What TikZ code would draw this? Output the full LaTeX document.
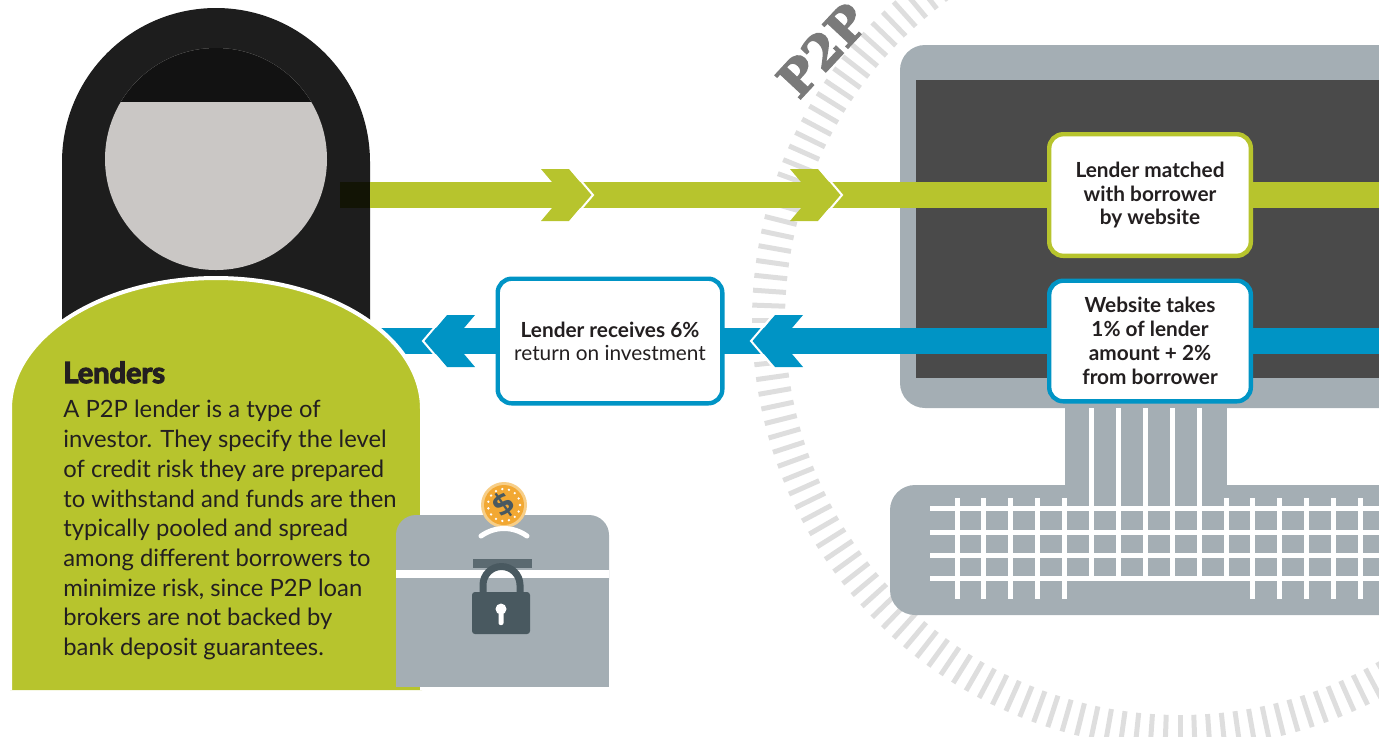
\documentclass[tikz,border=0pt]{standalone}
\usepackage{fontspec}
\setmainfont{Lato}
\font\heavyfont="Lato/B:embolden=4" at 14.5pt
\font\slabfont="DejaVu Serif/B:embolden=2.5" at 24pt
\newfontfamily\symfont{DejaVu Sans}

\definecolor{lime}{RGB}{183,196,45}
\definecolor{sea}{RGB}{0,148,197}
\definecolor{steel}{RGB}{164,174,180}
\definecolor{screen}{RGB}{74,74,74}
\definecolor{ink}{RGB}{35,31,32}
\definecolor{slate}{RGB}{73,89,96}
\definecolor{hair}{RGB}{29,29,29}
\definecolor{skin}{RGB}{202,199,197}
\definecolor{coin}{RGB}{242,168,51}
\definecolor{coinrim}{RGB}{247,206,135}
\definecolor{tickgray}{RGB}{222,222,222}

\begin{document}
\begin{tikzpicture}[x=0.5pt, y=-0.5pt,
    flowband/.style={line width=13pt},
    infobox/.style={draw, line width=2.2pt, fill=white, rounded corners=7pt,
                    align=center, text=ink, inner sep=2pt},
    ringtick/.style={tickgray, line width=2.5pt},
    keyline/.style={white, line width=2.5pt}]
  \clip (0,0) rectangle (1379,736);

  % dashed ring behind the computer
  \foreach \a in {0,2,...,358}
    \draw[ringtick, shift={(1180,320)}] (\a:395) -- (\a:428);
  \node[text=black!52, font=\slabfont, rotate=47] (tag) at (822,50) {P2P};

  % monitor
  \fill[steel, rounded corners=12.5pt] (900,45) rectangle (1430,408);
  \fill[screen] (916,80) rectangle (1390,378);
  \fill[steel] (1065,400) rectangle (1227,490);
  % keyboard
  \fill[steel, rounded corners=12.5pt] (890,485) rectangle (1430,615);
  \foreach \y in {508,532,555,578}
    \draw[keyline] (930,\y) -- (1390,\y);
  \foreach \k in {0,1,2,3,4,11,12,13,14,15,16}
    \draw[keyline] (957+26.9*\k,498) -- (957+26.9*\k,599);
  \foreach \k in {5,...,9}
    \draw[keyline] (957+26.9*\k,408) -- (957+26.9*\k,580);
  \draw[keyline] (957+26.9*10,498) -- (957+26.9*10,580);

  % lender: hair and face
  \fill[hair] (62,420) -- (62,162) arc[start angle=180, end angle=360, radius=154]
    -- (370,420) -- cycle;
  \begin{scope}
    \clip (216,159) circle[radius=111];
    \fill[skin] (100,40) rectangle (340,280);
    \fill[black!93] (100,40) rectangle (340,102);
  \end{scope}

  % money flows
  \coordinate (src) at (340,195);
  \coordinate (m) at (1150,195);
  \coordinate (gout) at (1390,195);
  \coordinate (bin) at (1390,341);
  \coordinate (f) at (1150,341);
  \coordinate (r) at (610,341);
  \coordinate (dst) at (380,341);
  \draw[flowband, lime] (src) -- (m) -- (gout);
  \fill[black!90!lime] (340,182) rectangle (370,208);
  \draw[flowband, sea] (bin) -- (f) -- (r) -- (dst);

  \foreach \x in {541,790} {
    \fill[lime] (\x,169) -- ++(28,0) -- ++(22,26) -- ++(-22,26) -- ++(-28,0)
      -- ++(22,-26) -- cycle;
    \draw[white, line width=1pt] (\x+29,168) -- (\x+52,195) -- (\x+29,222);
  }
  \foreach \x in {425,753} {
    \fill[sea] (\x,341) -- ++(22,-26) -- ++(28,0) -- ++(-22,26) -- ++(22,26)
      -- ++(-28,0) -- cycle;
    \draw[white, line width=1pt] (\x+21,314) -- (\x-2,341) -- (\x+21,368);
  }

  % lender: body
  \filldraw[lime, draw=white, line width=2pt] (10,690) -- (10,409)
    arc[start angle=180, end angle=360, x radius=206, y radius=131] -- (422,690);

  % savings chest with lock and coin
  \fill[steel, rounded corners=10pt] (396,515) rectangle (609,600);
  \fill[steel] (396,560) rectangle (609,687);
  \fill[white] (396,570) rectangle (609,578);
  \fill[slate!80!steel] (473,559) rectangle (532,568);
  \draw[slate, line width=3.5pt] (483,596) -- (483,585)
    arc[start angle=180, end angle=360, radius=18.5] -- (520,596);
  \fill[slate, rounded corners=1.5pt] (472,592) rectangle (530,634);
  \fill[white] (501,609) circle[radius=5.5];
  \fill[white, rounded corners=1pt] (498.5,609) rectangle (503.5,625);
  \fill[coinrim] (504,505) circle[radius=23];
  \fill[coin] (504,505) circle[radius=20];
  \foreach \a in {0,24,...,336}
    \fill[white] (504,505) ++(\a:16) circle[radius=1.3];
  \node[text=slate, rotate=35, font=\symfont\bfseries\fontsize{15}{15}\selectfont]
    (dollar) at (504,505) {\$};
  \draw[white, line width=2.5pt, line cap=round] (481,536)
    .. controls (495,526) and (513,526) .. (527,536);

  % steps on the flows
  \node[infobox, draw=lime, minimum width=100.8pt, minimum height=60.8pt,
        font=\fontsize{10.4}{11.8}\selectfont\bfseries] (match) at (m)
        {Lender matched\\with borrower\\by website};
  \node[infobox, draw=sea, minimum width=100.8pt, minimum height=60.3pt,
        font=\fontsize{10.4}{12}\selectfont\bfseries] (fee) at (f)
        {Website takes\\1\% of lender\\amount + 2\%\\from borrower};
  \node[infobox, draw=sea, minimum width=112.3pt, minimum height=62.3pt,
        font=\fontsize{10.4}{11.5}\selectfont] (ret) at (r)
        {\textbf{Lender receives 6\%}\\return on investment};

  % lender description
  \node[anchor=base west, inner sep=0pt, text=ink, font=\heavyfont] (title)
        at (63,383) {Lenders};
  \node[anchor=north west, inner sep=0pt, align=left, text=ink,
        font=\fontsize{11.9}{14.85}\selectfont] (blurb) at (63,400)
        {A P2P lender is a type of\\
         investor. They specify the level\\
         of credit risk they are prepared\\
         to withstand and funds are then\\
         typically pooled and spread\\
         among different borrowers to\\
         minimize risk, since P2P loan\\
         brokers are not backed by\\
         bank deposit guarantees.};
\end{tikzpicture}
\end{document}
